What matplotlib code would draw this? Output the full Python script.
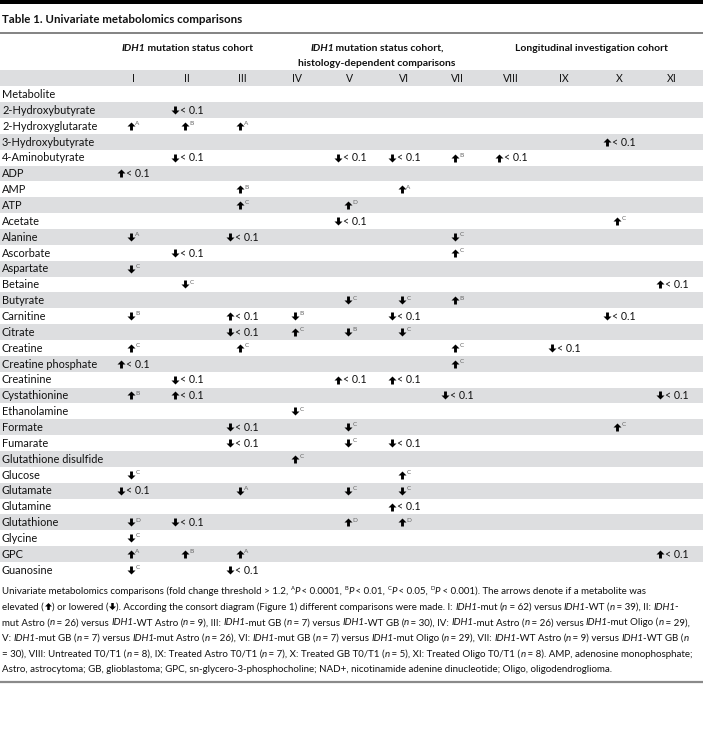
import re
import matplotlib
matplotlib.use("Agg")
import matplotlib.pyplot as plt
from matplotlib import font_manager
from matplotlib.path import Path

# ---- table content ----
metabolites = [
    "2-Hydroxybutyrate", "2-Hydroxyglutarate", "3-Hydroxybutyrate", "4-Aminobutyrate",
    "ADP", "AMP", "ATP", "Acetate", "Alanine", "Ascorbate", "Aspartate", "Betaine",
    "Butyrate", "Carnitine", "Citrate", "Creatine", "Creatine phosphate", "Creatinine",
    "Cystathionine", "Ethanolamine", "Formate", "Fumarate", "Glutathione disulfide",
    "Glucose", "Glutamate", "Glutamine", "Glutathione", "Glycine", "GPC", "Guanosine",
]
columns = ["I", "II", "III", "IV", "V", "VI", "VII", "VIII", "IX", "X", "XI"]

# "+" elevated, "-" lowered; letter = P-value class, "<" = "< 0.1"
col_I = {"2-Hydroxyglutarate": "+A", "ADP": "+<", "Alanine": "-A", "Aspartate": "-C",
         "Carnitine": "-B", "Creatine": "+C", "Creatine phosphate": "+<",
         "Cystathionine": "+B", "Glucose": "-C", "Glutamate": "-<", "Glutathione": "-D",
         "Glycine": "-C", "GPC": "+A", "Guanosine": "-C"}
col_II = {"2-Hydroxybutyrate": "-<", "2-Hydroxyglutarate": "+B", "4-Aminobutyrate": "-<",
          "Ascorbate": "-<", "Betaine": "-C", "Creatinine": "-<", "Cystathionine": "+<",
          "Glutathione": "-<", "GPC": "+B"}
col_III = {"2-Hydroxyglutarate": "+A", "AMP": "+B", "ATP": "+C", "Alanine": "-<",
           "Carnitine": "+<", "Citrate": "-<", "Creatine": "+C", "Formate": "-<",
           "Fumarate": "-<", "Glutamate": "-A", "GPC": "+A", "Guanosine": "-<"}
col_IV = {"Carnitine": "-B", "Citrate": "+C", "Ethanolamine": "-C",
          "Glutathione disulfide": "+C"}
col_V = {"4-Aminobutyrate": "-<", "ATP": "+D", "Acetate": "-<", "Butyrate": "-C",
         "Citrate": "-B", "Creatinine": "+<", "Formate": "-C", "Fumarate": "-C",
         "Glutamate": "-C", "Glutathione": "+D"}
col_VI = {"4-Aminobutyrate": "-<", "AMP": "+A", "Butyrate": "-C", "Carnitine": "-<",
          "Citrate": "-C", "Creatinine": "+<", "Fumarate": "-<", "Glucose": "+C",
          "Glutamate": "-C", "Glutamine": "+<", "Glutathione": "+D"}
col_VII = {"4-Aminobutyrate": "+B", "Alanine": "-C", "Ascorbate": "+C", "Butyrate": "+B",
           "Creatine": "+C", "Creatine phosphate": "+C", "Cystathionine": "-<"}
col_VIII = {"4-Aminobutyrate": "+<"}
col_IX = {"Creatine": "-<"}
col_X = {"3-Hydroxybutyrate": "+<", "Acetate": "+C", "Carnitine": "-<", "Formate": "+C"}
col_XI = {"Betaine": "+<", "Cystathionine": "-<", "GPC": "+<"}
cells = [col_I, col_II, col_III, col_IV, col_V, col_VI, col_VII, col_VIII, col_IX, col_X, col_XI]

title = "Table 1. Univariate metabolomics comparisons"
groups = [
    (["_IDH1_ mutation status cohort"], 0, 2),
    (["_IDH1_ mutation status cohort,", "histology-dependent comparisons"], 3, 6),
    (["Longitudinal investigation cohort"], 7, 10),
]
footnote = [
    "Univariate metabolomics comparisons (fold change threshold > 1.2, ^A_P_ < 0.0001, ^B_P_ < 0.01, ^C_P_ < 0.05, ^D_P_ < 0.001). The arrows denote if a metabolite was",
    "elevated (\u2b06) or lowered (\u2b07). According the consort diagram (Figure 1) different comparisons were made. I: _IDH1_-mut (_n_ = 62) versus _IDH1_-WT (_n_ = 39), II: _IDH1_-",
    "mut Astro (_n_ = 26) versus _IDH1_-WT Astro (_n_ = 9), III: _IDH1_-mut GB (_n_ = 7) versus _IDH1_-WT GB (_n_ = 30), IV: _IDH1_-mut Astro (_n_ = 26) versus _IDH1_-mut Oligo (_n_ = 29),",
    "V: _IDH1_-mut GB (_n_ = 7) versus _IDH1_-mut Astro (_n_ = 26), VI: _IDH1_-mut GB (_n_ = 7) versus _IDH1_-mut Oligo (_n_ = 29), VII: _IDH1_-WT Astro (_n_ = 9) versus _IDH1_-WT GB (_n_",
    "= 30), VIII: Untreated T0/T1 (_n_ = 8), IX: Treated Astro T0/T1 (_n_ = 7), X: Treated GB T0/T1 (_n_ = 5), XI: Treated Oligo T0/T1 (_n_ = 8). AMP, adenosine monophosphate;",
    "Astro, astrocytoma; GB, glioblastoma; GPC, sn-glycero-3-phosphocholine; NAD+, nicotinamide adenine dinucleotide; Oligo, oligodendroglioma.",
]


def pick_font(names):
    for n in names:
        try:
            font_manager.findfont(font_manager.FontProperties(family=n), fallback_to_default=False)
            return n
        except ValueError:
            pass
    return "DejaVu Sans"


FONT = pick_font(["Liberation Sans Narrow", "Lato", "Roboto"])
plt.rcParams["font.family"] = [FONT, "DejaVu Sans"]

# heavy arrow marker shapes
_up = [(0, 0.5), (0.5, 0.0), (0.18, 0.0), (0.18, -0.5), (-0.18, -0.5), (-0.18, 0.0),
       (-0.5, 0.0), (0, 0.5)]
UP = Path(_up, [Path.MOVETO] + [Path.LINETO] * 6 + [Path.CLOSEPOLY])
DOWN = Path([(x, -y) for x, y in _up], [Path.MOVETO] + [Path.LINETO] * 6 + [Path.CLOSEPOLY])

W, H = 703, 735
fig = plt.figure(figsize=(W / 100, H / 100), dpi=100)
ax = fig.add_axes([0, 0, 1, 1])
ax.set_xlim(0, W)
ax.set_ylim(H, 0)
ax.axis("off")
renderer = fig.canvas.get_renderer()


def measure(s, size, style, weight):
    t = ax.text(0, 0, "|" + s + "|", fontsize=size, style=style, weight=weight)
    w1 = t.get_window_extent(renderer).width
    t.set_text("||")
    w2 = t.get_window_extent(renderer).width
    t.remove()
    return w1 - w2


def rich(x, y, markup, size, weight="normal", ha="left", color="#111111",
         supcolor=None, arrow_px=8.0):
    parts = [p for p in re.split(r"(_[^_]+_|\^[A-Z]|[\u2b06\u2b07])", markup) if p]
    items = []
    for p in parts:
        if p.startswith("_"):
            items.append(("text", p[1:-1], "italic", size, 0, color))
        elif p.startswith("^"):
            items.append(("text", p[1:], "normal", size * 0.6, -size * 0.6, supcolor or color))
        elif p in "\u2b06\u2b07":
            items.append(("arrow", UP if p == "\u2b06" else DOWN, None, None, 0, "black"))
        else:
            items.append(("text", p, "normal", size, 0, color))
    widths = []
    for kind, s, st, sz, _, _ in items:
        if kind == "arrow":
            widths.append(arrow_px + 1.0)
        elif st == "italic":
            widths.append(measure(s, sz, st, weight) - 0.8)
        else:
            widths.append(measure(s, sz, st, weight))
    if ha == "center":
        x -= sum(widths) / 2
    for (kind, s, st, sz, dy, c), w in zip(items, widths):
        if kind == "arrow":
            ax.plot([x + w / 2], [y - size * 0.5], marker=s, ms=arrow_px * 0.72,
                    color=c, mew=0, ls="none")
        else:
            ax.text(x, y + dy, s, fontsize=sz, style=st, weight=weight, color=c,
                    va="baseline", ha="left")
        x += w


band = "#dddee0"
col_x = [133, 187, 242, 297, 350, 404, 457, 511, 564, 619, 672]
row_y0, row_h = 110, 15.86
base = 3.8

# frame lines
ax.axhspan(0, 4, color="black", lw=0)
ax.axhline(33, color="#6e6e6e", lw=1.2)
ax.axhline(682, color="#8a8a8a", lw=1.6)

rich(2, 19 + 4, title, 8.3, weight="bold")

for lines, a, b in groups:
    cx = (col_x[a] + col_x[b]) / 2
    for k, ln in enumerate(lines):
        rich(cx, 47 + base + k * 15, ln, 7.5, weight="bold", ha="center")

# roman numeral header row
ax.axhspan(70, 86, color=band, lw=0)
for cx, name in zip(col_x, columns):
    rich(cx, 78 + base, name, 7.6, ha="center")
rich(2, 94 + base, "Metabolite", 7.9)

for i, met in enumerate(metabolites):
    yc = row_y0 + i * row_h
    if i % 2 == 0:
        ax.axhspan(yc - row_h / 2, yc + row_h / 2, color=band, lw=0)
    rich(2, yc + base, met, 7.9)
    for cx, col in zip(col_x, cells):
        code = col.get(met)
        if not code:
            continue
        arrow = "\u2b06" if code[0] == "+" else "\u2b07"
        if code[1] == "<":
            rich(cx, yc + base, arrow + "< 0.1", 7.6, ha="center")
        else:
            rich(cx, yc + base, arrow + "^" + code[1], 7.6, ha="center", supcolor="#666666")

for k, ln in enumerate(footnote):
    rich(2, 590 + base + k * 15.7, ln, 7.0, arrow_px=7.0)

fig.savefig("out.png", dpi=100)
